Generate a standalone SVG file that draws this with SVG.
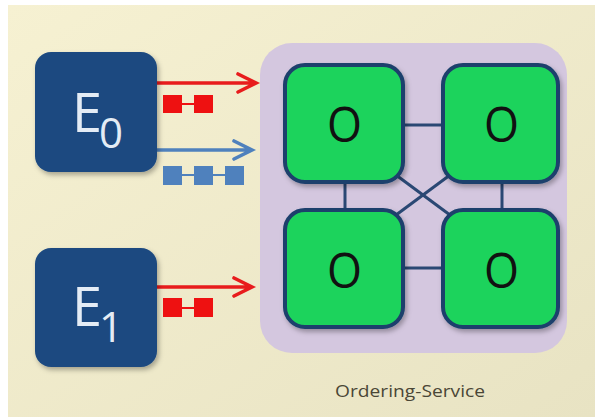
<svg xmlns="http://www.w3.org/2000/svg" width="595" height="417" viewBox="0 0 595 417">
  <defs>
    <linearGradient id="bg" x1="0" y1="0" x2="1" y2="1">
      <stop offset="0" stop-color="#f6f1d2"/>
      <stop offset="1" stop-color="#e8e3c3"/>
    </linearGradient>
    <filter id="soft" x="-10%" y="-10%" width="130%" height="130%">
      <feDropShadow dx="2" dy="3" stdDeviation="2.5" flood-color="#000" flood-opacity="0.3"/>
    </filter>
  </defs>
  <style>
    .endorser { fill: #1d4a80; }
    .endorser-label { font-family: "Open Sans", "Liberation Sans", sans-serif; fill: #e4ecf5; }
    .orderer { fill: #1ed35c; stroke: #1e3f6c; stroke-width: 4; }
    .orderer-label { font-family: "Open Sans", "Liberation Sans", sans-serif; font-size: 50px; fill: #111; text-anchor: middle; }
    .link { stroke: #2a4874; stroke-width: 3; fill: none; }
    .red { fill: #ee1111; }
    .blue { fill: #4f81bd; }
    .arrow-red { stroke: #e81c1c; stroke-width: 3.6; fill: none; stroke-linecap: round; stroke-linejoin: miter; }
    .arrow-blue { stroke: #4f81bd; stroke-width: 3.6; fill: none; stroke-linecap: round; stroke-linejoin: miter; }
    .caption { font-family: "Open Sans", "Liberation Sans", sans-serif; font-size: 17px; fill: #4a4636; text-anchor: middle; }
  </style>

  <!-- page -->
  <rect x="0" y="0" width="595" height="417" fill="#ffffff"/>
  <rect x="8" y="5" width="587" height="412" fill="url(#bg)"/>

  <!-- ordering service cluster -->
  <g id="ordering-service">
    <rect x="260" y="43" width="307" height="310" rx="32" fill="#d4c7df"/>
    <text class="caption" x="410" y="397" textLength="150" lengthAdjust="spacingAndGlyphs">Ordering-Service</text>
  </g>

  <!-- links between orderers and transaction arrows -->
  <g id="connectors">
    <line class="link" x1="403" y1="125" x2="443" y2="125"/>
    <line class="link" x1="403" y1="268" x2="443" y2="268"/>
    <line class="link" x1="345" y1="182" x2="345" y2="210"/>
    <line class="link" x1="502" y1="182" x2="502" y2="210"/>
    <line class="link" x1="396" y1="175" x2="450" y2="215"/>
    <line class="link" x1="450" y1="175" x2="396" y2="215"/>

    <path class="arrow-red" d="M157,83 H255 M238,74 L256,83 L238,92"/>
    <path class="arrow-blue" d="M157,150 H251 M234,141 L252,150 L234,159"/>
    <path class="arrow-red" d="M157,287 H251 M234,278 L252,287 L234,296"/>
  </g>

  <!-- batches carried on the arrows -->
  <g id="batch-e0-red">
    <line x1="175" y1="104" x2="200" y2="104" stroke="#ee1111" stroke-width="2"/>
    <rect class="red" x="163" y="95" width="19" height="18"/>
    <rect class="red" x="194" y="95" width="19" height="18"/>
  </g>
  <g id="batch-e0-blue">
    <line x1="175" y1="175" x2="235" y2="175" stroke="#4f81bd" stroke-width="2"/>
    <rect class="blue" x="163" y="166" width="19" height="19"/>
    <rect class="blue" x="194" y="166" width="19" height="19"/>
    <rect class="blue" x="225" y="166" width="19" height="19"/>
  </g>
  <g id="batch-e1-red">
    <line x1="175" y1="308" x2="200" y2="308" stroke="#ee1111" stroke-width="2"/>
    <rect class="red" x="163" y="298" width="19" height="19"/>
    <rect class="red" x="194" y="298" width="19" height="19"/>
  </g>

  <!-- endorsers -->
  <g id="E0">
    <rect class="endorser" x="35" y="52" width="122" height="120" rx="16" filter="url(#soft)"/>
    <text class="endorser-label" x="72" y="132" font-size="54">E<tspan x="99" y="148" font-size="42">0</tspan></text>
  </g>
  <g id="E1">
    <rect class="endorser" x="35" y="248" width="122" height="119" rx="16" filter="url(#soft)"/>
    <text class="endorser-label" x="72" y="326" font-size="54">E<tspan x="99" y="342" font-size="42">1</tspan></text>
  </g>

  <!-- orderers -->
  <g id="O-top-left">
    <rect class="orderer" x="285" y="65" width="118" height="117" rx="20" filter="url(#soft)"/>
    <text class="orderer-label" x="344.5" y="142" textLength="35" lengthAdjust="spacingAndGlyphs">O</text>
  </g>
  <g id="O-top-right">
    <rect class="orderer" x="443" y="65" width="115" height="117" rx="20" filter="url(#soft)"/>
    <text class="orderer-label" x="501.5" y="142" textLength="35" lengthAdjust="spacingAndGlyphs">O</text>
  </g>
  <g id="O-bottom-left">
    <rect class="orderer" x="285" y="210" width="118" height="117" rx="20" filter="url(#soft)"/>
    <text class="orderer-label" x="344.5" y="288" textLength="35" lengthAdjust="spacingAndGlyphs">O</text>
  </g>
  <g id="O-bottom-right">
    <rect class="orderer" x="443" y="210" width="115" height="117" rx="20" filter="url(#soft)"/>
    <text class="orderer-label" x="501.5" y="288" textLength="35" lengthAdjust="spacingAndGlyphs">O</text>
  </g>
</svg>
